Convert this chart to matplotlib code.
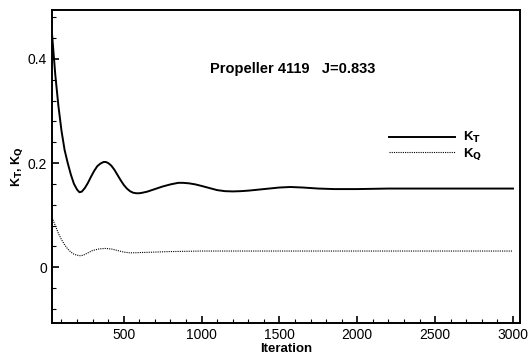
import matplotlib.pyplot as plt
from matplotlib.ticker import MultipleLocator

plt.rcParams['font.family'] = ['Liberation Sans', 'DejaVu Sans']

iter_kt = [40, 60, 80, 100, 120, 140, 160, 180, 200, 215, 230, 250, 270, 290, 310,
           330, 350, 370, 385, 400, 420, 440, 460, 480, 500, 520, 540, 560, 580, 600,
           620, 650, 700, 750, 800, 850, 880, 920, 960, 1000, 1050, 1100, 1150, 1200,
           1250, 1300, 1400, 1500, 1570, 1650, 1750, 1850, 2000, 2200, 2500, 2800, 3000]
kt = [0.445, 0.37, 0.31, 0.262, 0.225, 0.2, 0.178, 0.16, 0.149, 0.144, 0.145, 0.152,
      0.162, 0.174, 0.185, 0.194, 0.199, 0.202, 0.202, 0.2, 0.195, 0.187, 0.177,
      0.167, 0.158, 0.151, 0.146, 0.143, 0.142, 0.142, 0.143, 0.145, 0.15, 0.155,
      0.159, 0.162, 0.162, 0.161, 0.159, 0.156, 0.152, 0.148, 0.146, 0.1455, 0.146,
      0.147, 0.15, 0.153, 0.154, 0.153, 0.151, 0.15, 0.15, 0.151, 0.151, 0.151, 0.151]

iter_kq = [40, 60, 80, 100, 120, 140, 160, 180, 200, 220, 240, 260, 280, 300, 340,
           380, 420, 460, 500, 540, 600, 700, 800, 1000, 1500, 2000, 2500, 3000]
kq = [0.095, 0.08, 0.065, 0.053, 0.043, 0.035, 0.029, 0.025, 0.023, 0.022, 0.023,
      0.026, 0.029, 0.032, 0.035, 0.036, 0.035, 0.032, 0.029, 0.0275, 0.028, 0.029,
      0.03, 0.031, 0.031, 0.031, 0.031, 0.031]

fig = plt.figure(figsize=(5.29, 3.56), dpi=100)
ax = fig.add_axes([0.098, 0.093, 0.885, 0.879])

ax.plot(iter_kt, kt, color='black', lw=1.4, label='K$_\\mathbf{T}$')
ax.plot(iter_kq, kq, color='black', lw=0.8, linestyle=(0, (1, 1)), label='K$_\\mathbf{Q}$')

ax.set_xlim(38, 3045)
ax.set_ylim(-0.107, 0.494)
ax.xaxis.set_major_locator(MultipleLocator(500))
ax.xaxis.set_minor_locator(MultipleLocator(100))
ax.yaxis.set_major_locator(MultipleLocator(0.2))
ax.yaxis.set_minor_locator(MultipleLocator(0.04))
ax.yaxis.set_major_formatter(plt.FuncFormatter(lambda v, p: '0' if abs(v) < 1e-9 else f'{v:g}'))
ax.tick_params(which='both', direction='in', labelsize=10)
ax.tick_params(which='major', length=5, width=1.2)
ax.tick_params(which='minor', length=3, width=0.8)
for s in ax.spines.values():
    s.set_linewidth(1.4)

ax.set_xlabel('Iteration', fontsize=9.5, fontweight='bold', labelpad=1)
ax.set_ylabel('K$_\\mathbf{T}$, K$_\\mathbf{Q}$', fontsize=9, fontweight='bold', labelpad=2)

ax.text(0.338, 0.81, 'Propeller 4119   J=0.833', transform=ax.transAxes,
        fontsize=10.5, fontweight='bold', va='center')

leg = ax.legend(loc='center left', bbox_to_anchor=(0.694, 0.565), frameon=False,
                handlelength=5.0, fontsize=9.5, labelspacing=0.05, handletextpad=0.6)
for t in leg.get_texts():
    t.set_fontweight('bold')

fig.savefig('out.png', dpi=100)
